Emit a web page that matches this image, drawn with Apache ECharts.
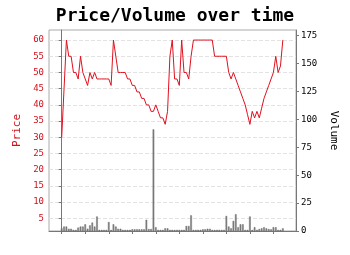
<!DOCTYPE html>
<html>
<head>
<meta charset="utf-8">
<script src="https://cdn.jsdelivr.net/npm/echarts@6/dist/echarts.min.js"></script>
<style>
  html, body { margin: 0; padding: 0; background: #fff; }
  #main { width: 350px; height: 255px; }
</style>
</head>
<body>
<div id="main"></div>
<script>
// price per period (left axis)
var prices = [
  30, 45, 60, 55, 55, 50, 50, 48, 55, 50,
  48, 46, 50, 48, 50, 48, 48, 48, 48, 48,
  48, 46, 60, 55, 50, 50, 50, 50, 48, 48,
  46, 46, 44, 44, 42, 42, 40, 40, 38, 38,
  40, 38, 36, 36, 34, 38, 55, 60, 48, 48,
  46, 60, 50, 50, 48, 55, 60, 60, 60, 60,
  60, 60, 60, 60, 60, 55, 55, 55, 55, 55,
  55, 50, 48, 50, 48, 46, 44, 42, 40, 37,
  34, 38, 36, 38, 36, 39, 42, 44, 46, 48,
  50, 55, 50, 52, 60
];
// volume per period (right axis)
var volumes = [
  2.4, 4, 4, 2, 2, 1, 1, 3, 4, 4,
  6, 2, 5, 7.5, 4, 13, 1, 1, 1, 1,
  8, 1, 6, 4, 2, 2, 1, 1, 1, 1,
  1.5, 1.5, 1.5, 1.5, 1.5, 1.5, 10, 1.8, 1.8, 91,
  3.4, 1, 1, 1, 2.4, 2.4, 1, 1, 1, 1,
  1, 1, 1, 4.5, 4.5, 14, 1, 1, 1, 1,
  1.5, 1.5, 2, 2, 1, 1, 1, 1, 1, 1,
  13.5, 4, 2.4, 9, 15, 3.4, 6, 6, 1, 1,
  13, 1, 3.4, 1, 1.8, 2.4, 3.4, 2.4, 1.8, 1.5,
  3.4, 3.4, 1, 1, 2.4
];
var priceTicks = [5, 10, 15, 20, 25, 30, 35, 40, 45, 50, 55, 60];
var volumeTicks = [0, 25, 50, 75, 100, 125, 150, 175];
var xTicks = [0, 10, 20, 30, 40, 50, 60, 70, 80, 90];

var mono = "DejaVu Sans Mono";
var red = "#d0101c";

var priceData = prices.map(function (p, i) { return [i, p]; });
var volumeData = volumes.map(function (v, i) { return [i, v]; });

var myChart = echarts.init(document.getElementById("main"));
myChart.setOption({
  animation: false,
  title: {
    text: "Price/Volume over time",
    left: "center",
    top: 2,
    textStyle: { fontFamily: mono, fontSize: 18, fontWeight: "bold", color: "#000" }
  },
  grid: {
    left: 49,
    right: 54,
    top: 30,
    bottom: 24,
    show: true,
    borderColor: "#aaa",
    borderWidth: 1
  },
  xAxis: {
    type: "value",
    min: -5.4,
    max: 99.6,
    axisLine: { lineStyle: { color: "#777" } },
    axisTick: { customValues: xTicks, length: 3, lineStyle: { color: "#777" } },
    axisLabel: { show: false },
    splitLine: { show: false }
  },
  yAxis: [
    {
      type: "value",
      min: 1.1,
      max: 63.1,
      name: "Price",
      nameLocation: "middle",
      nameGap: 25,
      nameTextStyle: { fontFamily: mono, fontSize: 11, color: red },
      axisLine: { show: true, lineStyle: { color: "#777" } },
      axisTick: { show: true, customValues: priceTicks, length: 3, lineStyle: { color: "#777" } },
      axisLabel: { customValues: priceTicks, fontFamily: mono, fontSize: 9, color: red, margin: 5 },
      splitLine: { show: true, lineStyle: { color: "#e2e2e2", type: "dashed" } }
    },
    {
      type: "value",
      min: 0,
      max: 180,
      position: "right",
      name: "Volume",
      nameLocation: "middle",
      nameGap: 28,
      nameRotate: -90,
      nameTextStyle: { fontFamily: mono, fontSize: 11, color: "#000" },
      axisLine: { show: true, lineStyle: { color: "#777" } },
      axisTick: { show: true, customValues: volumeTicks, length: 3, lineStyle: { color: "#777" } },
      axisLabel: { customValues: volumeTicks, fontFamily: mono, fontSize: 9, color: "#000", margin: 5 },
      splitLine: { show: false }
    }
  ],
  series: [
    {
      type: "bar",
      yAxisIndex: 1,
      data: volumeData,
      barWidth: 1.6,
      itemStyle: { color: "#888", borderColor: "#555", borderWidth: 0.4 }
    },
    {
      type: "line",
      yAxisIndex: 0,
      data: priceData,
      symbol: "none",
      lineStyle: { color: "#e0101e", width: 1 }
    }
  ]
});
</script>
</body>
</html>
